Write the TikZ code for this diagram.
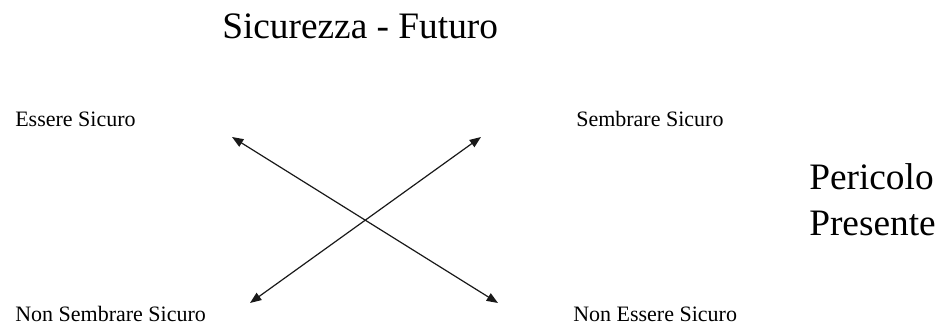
\documentclass[tikz,border=0pt]{standalone}
\usepackage{fontspec}
\setmainfont{Liberation Serif}
\usetikzlibrary{arrows.meta}

\begin{document}
\begin{tikzpicture}[
  x=0.75pt, y=-0.75pt,
  every node/.style={inner sep=0pt, anchor=base west},
  corner/.style={font=\fontsize{16.5}{19}\selectfont},
  axis/.style={font=\fontsize{28}{35}\selectfont, align=left},
  arrow/.style={{Triangle[length=8.5pt,width=6.5pt]}-{Triangle[length=8.5pt,width=6.5pt]}, line width=0.9pt, color=black!90}
]
\useasboundingbox (0,0) rectangle (938,327);

% axes
\node[axis] (future) at (222,39) {Sicurezza - Futuro};
\node[axis] (danger) at (809,236) {Pericolo\\Presente};

% four corners
\node[corner] (issafe) at (15,127) {Essere Sicuro};
\node[corner] (seemsafe) at (576,127) {Sembrare Sicuro};
\node[corner] (notseem) at (15,322) {Non Sembrare Sicuro};
\node[corner] (notsafe) at (573,322) {Non Essere Sicuro};

% cross
\coordinate (tl) at (232,137);
\coordinate (br) at (498,303);
\coordinate (bl) at (250,303);
\coordinate (tr) at (481,137);
\draw[arrow] (tl) -- (br);
\draw[arrow] (bl) -- (tr);
\end{tikzpicture}
\end{document}
